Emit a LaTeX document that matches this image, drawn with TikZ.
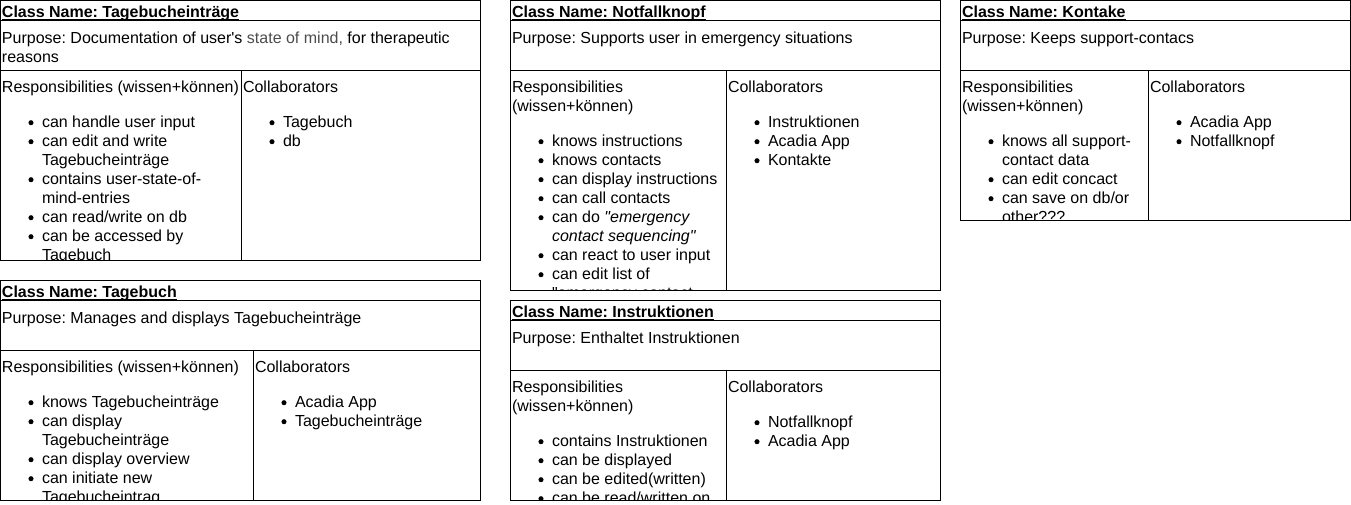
\documentclass[tikz,border=0pt]{standalone}
\usepackage{fontspec}
\setmainfont{Liberation Sans}
\frenchspacing
\newcount\crcidx
\tikzset{
  txt/.style={anchor=base west, inner sep=0pt, outer sep=0pt, font=\fontsize{12}{14.4}\selectfont},
  ttl/.style={txt, font=\fontsize{12}{14.4}\selectfont\bfseries},
  frame/.style={draw=black, line width=0.75pt},
  uline/.style={draw=black, line width=0.75pt},
  dot/.style={fill=black, draw=none}
}
\newcommand\Ln[3]{\global\advance\crcidx by 1 \node[txt] (t\the\crcidx) at (#1,#2) {#3};}
\newcommand\Ttl[4]{\node[ttl] (#1) at (#2,#3) {#4};
  \draw[uline] ([yshift=-1.1pt]#1.base west) -- ([yshift=-1.1pt]#1.base east);}
\newcommand\Li[3]{\fill[dot] (#1+31,#2-4.3) circle[radius=1.9pt]; \Ln{#1+42}{#2}{#3}}
\newcommand\crccard[5]{%
  \draw[frame] (#1,#2) rectangle (#3,#4);
  \draw[frame] (#1,#2+20) -- (#3,#2+20);
  \draw[frame] (#1,#2+70) -- (#3,#2+70);
  \draw[frame] (#5,#2+70) -- (#5,#4);}
\begin{document}
\begin{tikzpicture}[x=0.75pt,y=-0.75pt]
\useasboundingbox (0,0) rectangle (1351,504);

% ---------- Tagebucheintraege ----------
\begin{scope}
\clip (0,0) rectangle (480.5,260.5);
\Ttl{tA}{2}{17.6}{Class Name: Tagebucheinträge}
\Ln{2}{43.5}{Purpose: Documentation of user\textquotesingle s {\color{black!70}state of mind,} for therapeutic}
\Ln{2}{62.5}{reasons}
\Ln{2}{92}{Responsibilities (wissen+können)}
\Li{0}{127}{can handle user input}
\Li{0}{146}{can edit and write}
\Ln{42}{165}{Tagebucheinträge}
\Li{0}{184}{contains user-state-of-}
\Ln{42}{203}{mind-entries}
\Li{0}{222}{can read/write on db}
\Li{0}{241}{can be accessed by}
\Ln{42}{260}{Tagebuch}
\Ln{243}{92}{Collaborators}
\Li{241}{127}{Tagebuch}
\Li{241}{146}{db}
\end{scope}
\crccard{0.5}{0.5}{480.5}{260.5}{241}

% ---------- Tagebuch ----------
\begin{scope}
\clip (0,280) rectangle (480.5,500.5);
\Ttl{tB}{2}{297.6}{Class Name: Tagebuch}
\Ln{2}{323.5}{Purpose: Manages and displays Tagebucheinträge}
\Ln{2}{372}{Responsibilities (wissen+können)}
\Li{0}{407}{knows Tagebucheinträge}
\Li{0}{426}{can display}
\Ln{42}{445}{Tagebucheinträge}
\Li{0}{464}{can display overview}
\Li{0}{483}{can initiate new}
\Ln{42}{502}{Tagebucheintrag}
\Ln{255}{372}{Collaborators}
\Li{253}{407}{Acadia App}
\Li{253}{426}{Tagebucheinträge}
\end{scope}
\crccard{0.5}{280.5}{480.5}{500.5}{253}

% ---------- Notfallknopf ----------
\begin{scope}
\clip (510,0) rectangle (940.5,290.5);
\Ttl{tC}{512}{17.6}{Class Name: Notfallknopf}
\Ln{512}{43.5}{Purpose: Supports user in emergency situations}
\Ln{512}{92}{Responsibilities}
\Ln{512}{111}{(wissen+können)}
\Li{510}{146}{knows instructions}
\Li{510}{165}{knows contacts}
\Li{510}{184}{can display instructions}
\Li{510}{203}{can call contacts}
\Li{510}{222}{can do \textit{\textquotedbl emergency}}
\Ln{552}{241}{\textit{contact sequencing\textquotedbl}}
\Li{510}{260}{can react to user input}
\Li{510}{279}{can edit list of}
\Ln{552}{298}{\textquotedbl emergency contact}
\Ln{728}{92}{Collaborators}
\Li{726}{127}{Instruktionen}
\Li{726}{146}{Acadia App}
\Li{726}{165}{Kontakte}
\end{scope}
\crccard{510.5}{0.5}{940.5}{290.5}{726}

% ---------- Instruktionen ----------
\begin{scope}
\clip (510,300) rectangle (940.5,500.5);
\Ttl{tD}{512}{317.6}{Class Name: Instruktionen}
\Ln{512}{343.5}{Purpose: Enthaltet Instruktionen}
\Ln{512}{392}{Responsibilities}
\Ln{512}{411}{(wissen+können)}
\Li{510}{446}{contains Instruktionen}
\Li{510}{465}{can be displayed}
\Li{510}{484}{can be edited(written)}
\Li{510}{503}{can be read/written on}
\Ln{728}{392}{Collaborators}
\Li{726}{427}{Notfallknopf}
\Li{726}{446}{Acadia App}
\end{scope}
\crccard{510.5}{300.5}{940.5}{500.5}{726}

% ---------- Kontake ----------
\begin{scope}
\clip (960,0) rectangle (1350.5,220.5);
\Ttl{tE}{962}{17.6}{Class Name: Kontake}
\Ln{962}{43.5}{Purpose: Keeps support-contacs}
\Ln{962}{92}{Responsibilities}
\Ln{962}{111}{(wissen+können)}
\Li{960}{146}{knows all support-}
\Ln{1002}{165}{contact data}
\Li{960}{184}{can edit concact}
\Li{960}{203}{can save on db/or}
\Ln{1002}{222}{other???}
\Ln{1150}{92}{Collaborators}
\Li{1148}{127}{Acadia App}
\Li{1148}{146}{Notfallknopf}
\end{scope}
\crccard{960.5}{0.5}{1350.5}{220.5}{1148}
\end{tikzpicture}
\end{document}
